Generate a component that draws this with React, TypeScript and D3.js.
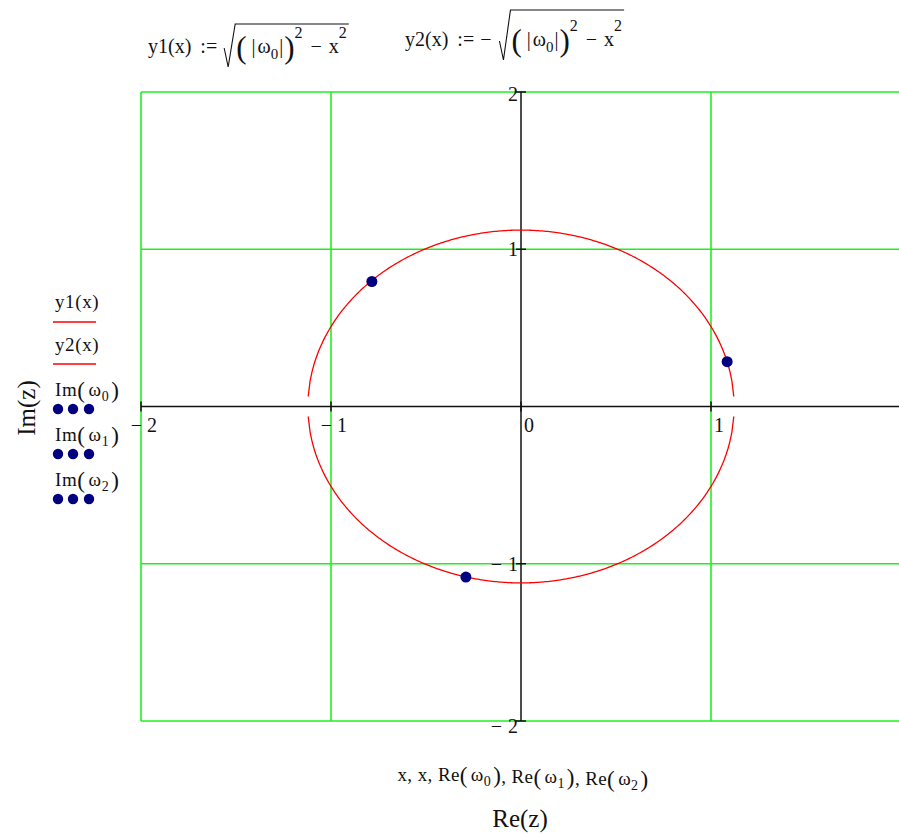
import React, { useLayoutEffect, useRef, useState } from "react";
import * as d3 from "d3";

const W = 899;
const H = 834;

// Roots ω0, ω1, ω2 (real and imaginary parts)
const rootRe = [1.085, -0.785, -0.29];
const rootIm = [0.285, 0.795, -1.085];

// Axis ticks and grid positions
const xTicks = [-2, -1, 0, 1, 2];
const yTicks = [-2, -1, 1, 2];
const gridX = [-2, -1, 1, 2];
const gridY = [-2, -1, 1, 2];

// Range variable x used for y1(x), y2(x)
const xStart = -2;
const xEnd = 2;
const xStep = 0.01;

const FONT = "'Liberation Serif', 'Times New Roman', serif";

const xScale = d3.scaleLinear().domain([-2, 2]).range([141, 901]);
const yScale = d3.scaleLinear().domain([-2, 2]).range([721, 92]);

function Formula({
  x,
  base,
  name,
  neg,
  rise,
}: {
  x: number;
  base: number;
  name: string;
  neg?: boolean;
  rise: number;
}) {
  const headRef = useRef<SVGTextElement>(null);
  const bodyRef = useRef<SVGTextElement>(null);
  const [headEnd, setHeadEnd] = useState(x + 70);
  const [bodyW, setBodyW] = useState(120);
  useLayoutEffect(() => {
    if (headRef.current) {
      const b = headRef.current.getBBox();
      setHeadEnd(b.x + b.width);
    }
    if (bodyRef.current) {
      const b = bodyRef.current.getBBox();
      setBodyW(b.width);
    }
  }, []);
  const rx = headEnd + (neg ? 8 : 7);
  const bodyX = rx + 12;
  const top = base - rise;
  return (
    <g fontFamily={FONT} fontSize={20} fill="#111">
      <text ref={headRef} x={x} y={base}>
        {name}
        <tspan dx={9}>:=</tspan>
        {neg && <tspan dx={6}>−</tspan>}
      </text>
      <path
        d={`M${rx},${base - 5} L${rx + 4},${base + 14} L${rx + 11},${top} L${bodyX + bodyW + 2},${top}`}
        fill="none"
        stroke="#111"
        strokeWidth={1.1}
      />
      <text ref={bodyRef} x={bodyX} y={base}>
        <tspan fontSize={31} dy={5}>(</tspan>
        <tspan dy={-5} dx={5}>|</tspan>
        <tspan dx={2}>ω</tspan>
        <tspan dy={6} fontSize={15}>0</tspan>
        <tspan dy={-6} dx={1}>|</tspan>
        <tspan fontSize={31} dy={5} dx={1}>)</tspan>
        <tspan dy={-20} fontSize={16}>2</tspan>
        <tspan dy={15} dx={8}>−</tspan>
        <tspan dx={7}>x</tspan>
        <tspan dy={-15} fontSize={16}>2</tspan>
      </text>
    </g>
  );
}

function Sub({ name, idx }: { name: string; idx: number }) {
  return (
    <>
      <tspan>{name}</tspan>
      <tspan fontSize={23} dy={2}>(</tspan>
      <tspan dy={-2} dx={3}>ω</tspan>
      <tspan fontSize={14} dy={5}>{idx}</tspan>
      <tspan fontSize={23} dy={-3} dx={2}>)</tspan>
      <tspan dy={-2}></tspan>
    </>
  );
}

export default function App() {
  const r = Math.hypot(rootRe[0], rootIm[0]);
  const xs = d3.range(xStart, xEnd + 1e-9, xStep);
  const y1 = xs.map((x) => [x, Math.sqrt(r * r - x * x)] as [number, number]);
  const y2 = xs.map((x) => [x, -Math.sqrt(r * r - x * x)] as [number, number]);
  const line = d3
    .line<[number, number]>()
    .defined((d) => !isNaN(d[1]))
    .x((d) => xScale(d[0]))
    .y((d) => yScale(d[1]));

  const [x0, x1] = xScale.range();
  const [yb, yt] = yScale.range();
  const xAxisY = yScale(0);
  const yAxisX = xScale(0);

  const legendDots = [58, 73, 89];

  return (
    <svg
      width={W}
      height={H}
      style={{ position: "absolute", left: 0, top: 0, background: "#fff" }}
      fontFamily={FONT}
    >
      <rect width={W} height={H} fill="#fff" />

      {/* formulas */}
      <Formula x={148} base={53} name="y1(x)" rise={29} />
      <Formula x={405} base={46} name="y2(x)" neg rise={36} />

      {/* grid */}
      <g stroke="#1ef01e" strokeWidth={1.6}>
        {gridX.map((v) => (
          <line key={"gx" + v} x1={xScale(v)} x2={xScale(v)} y1={yt} y2={yb} />
        ))}
        {gridY.map((v) => (
          <line key={"gy" + v} x1={x0} x2={x1} y1={yScale(v)} y2={yScale(v)} />
        ))}
      </g>

      {/* axes */}
      <g stroke="#111" strokeWidth={1.5}>
        <line x1={x0} x2={x1} y1={xAxisY} y2={xAxisY} />
        <line x1={yAxisX} x2={yAxisX} y1={yt} y2={yb} />
        {xTicks.map((v) => (
          <line key={"tx" + v} x1={xScale(v)} x2={xScale(v)} y1={xAxisY - 5} y2={xAxisY + 5} />
        ))}
        {yTicks.map((v) => (
          <line key={"ty" + v} x1={yAxisX - 5} x2={yAxisX + 5} y1={yScale(v)} y2={yScale(v)} />
        ))}
      </g>

      {/* tick labels */}
      <g fontSize={20} fill="#111">
        {xTicks
          .filter((v) => xScale(v) < W - 10)
          .map((v) => (
            <g key={"lx" + v}>
              {v < 0 && (
                <text x={xScale(v) + 1} y={432} textAnchor="end">
                  −
                </text>
              )}
              <text x={xScale(v) + (v < 0 ? 6 : 3)} y={432}>
                {Math.abs(v)}
              </text>
            </g>
          ))}
        {yTicks.map((v) => (
          <text
            key={"ly" + v}
            x={yAxisX - 3}
            y={yScale(v) + (v === -2 ? 12 : v === 2 ? 9 : 7)}
            textAnchor="end"
          >
            {v < 0 ? "−" : ""}
            <tspan dx={v < 0 ? 6 : 0}>{Math.abs(v)}</tspan>
          </text>
        ))}
      </g>

      {/* curves */}
      <path d={line(y1) || ""} fill="none" stroke="#ff0000" strokeWidth={1.3} />
      <path d={line(y2) || ""} fill="none" stroke="#ff0000" strokeWidth={1.3} />

      {/* roots */}
      {rootRe.map((re, i) => (
        <circle key={"p" + i} cx={xScale(re)} cy={yScale(rootIm[i])} r={5.5} fill="#000080" />
      ))}

      {/* legend */}
      <g fontSize={19} fill="#111" letterSpacing={0.6}>
        <text x={55} y={308}>y1(x)</text>
        <line x1={53} x2={96} y1={322} y2={322} stroke="#ff0000" strokeWidth={1.6} />
        <text x={55} y={351}>y2(x)</text>
        <line x1={53} x2={96} y1={364} y2={364} stroke="#ff0000" strokeWidth={1.6} />
        {[0, 1, 2].map((k) => (
          <g key={"lg" + k}>
            <text x={55} y={396 + k * 45}>
              <Sub name="Im" idx={k} />
            </text>
            {legendDots.map((dx) => (
              <circle key={dx} cx={dx} cy={409 + k * 45} r={5.2} fill="#000080" />
            ))}
          </g>
        ))}
      </g>

      {/* axis titles */}
      <text
        transform="translate(35,408) rotate(-90)"
        textAnchor="middle"
        fontSize={25}
        fill="#111"
      >
        Im(z)
      </text>
      <text x={523} y={781} textAnchor="middle" fontSize={19} fill="#111" letterSpacing={0.4}>
        x, x, <Sub name="Re" idx={0} />, <Sub name="Re" idx={1} />, <Sub name="Re" idx={2} />
      </text>
      <text x={520} y={827} textAnchor="middle" fontSize={25} fill="#111">
        Re(z)
      </text>
    </svg>
  );
}
